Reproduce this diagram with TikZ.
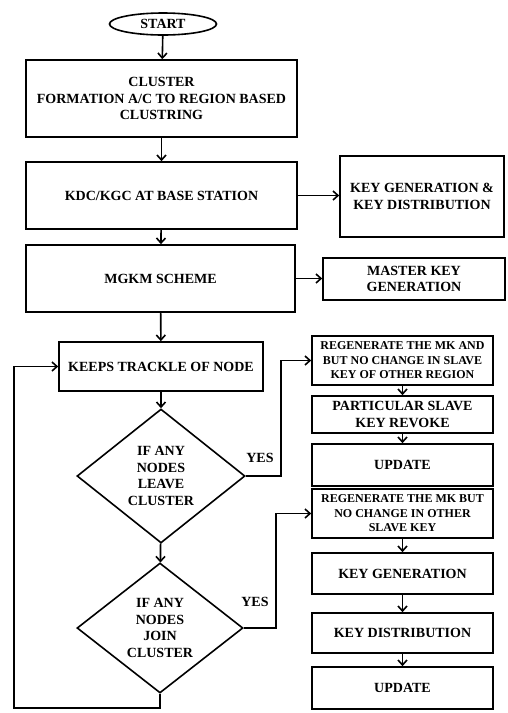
\documentclass[tikz,border=0pt]{standalone}
\usepackage{fontspec}
\setmainfont{Liberation Serif}
\usetikzlibrary{shapes.geometric,arrows.meta}
\begin{document}
\begin{tikzpicture}[x=1pt,y=-1pt,line width=1.6pt,
		>={Straight Barb[length=5pt,width=9pt]},
		procbox/.style={draw,rectangle,inner sep=0pt,align=center,font=\fontsize{14}{16.7}\selectfont\bfseries},
		smallbox/.style={procbox,font=\fontsize{12}{14.5}\selectfont\bfseries},
		decision/.style={draw,diamond,inner sep=0pt,align=center,font=\fontsize{14}{16.7}\selectfont\bfseries},
		terminal/.style={draw,ellipse,inner sep=0pt,font=\fontsize{14}{16.7}\selectfont\bfseries}]
		\useasboundingbox (0,0) rectangle (507,713);
		% main column
		\node (start) at (163,24) [terminal,minimum width=107pt,minimum height=22pt]{START};
		\node (cluster) at (161.5,98.5) [procbox,minimum width=271pt,minimum height=77pt]{CLUSTER\\FORMATION A/C TO REGION BASED\\CLUSTRING};
		\node (kdc) at (161.5,195.5) [procbox,minimum width=271pt,minimum height=67pt]{KDC/KGC AT BASE STATION};
		\node (mgkm) at (160.5,278.5) [procbox,minimum width=269pt,minimum height=67pt]{MGKM SCHEME};
		\node (keeps) at (161,366.5) [procbox,minimum width=204pt,minimum height=49pt]{KEEPS TRACKLE OF NODE};
		\node (leave) at (161,476) [decision,minimum width=168pt,minimum height=134pt]{IF ANY\\NODES\\LEAVE\\CLUSTER};
		\node (join) at (160,628) [decision,minimum width=166pt,minimum height=130pt]{IF ANY\\NODES\\JOIN\\CLUSTER};
		% right column
		\node (keygen) at (422,196.5) [procbox,minimum width=164pt,minimum height=81pt]{KEY GENERATION \&\\KEY DISTRIBUTION};
		\node (master) at (414,279) [procbox,minimum width=182pt,minimum height=42pt]{MASTER KEY\\GENERATION};
		\node (regenleave) at (402.5,360.5) [smallbox,minimum width=181pt,minimum height=49pt]{REGENERATE THE MK AND\\BUT NO CHANGE IN SLAVE\\KEY OF OTHER REGION};
		\node (revoke) at (402.5,414.5) [procbox,minimum width=181pt,minimum height=37pt]{PARTICULAR SLAVE\\KEY REVOKE};
		\node (updleave) at (402.5,465) [procbox,minimum width=181pt,minimum height=42pt]{UPDATE};
		\node (regenjoin) at (402.5,513.5) [smallbox,minimum width=181pt,minimum height=49pt]{REGENERATE THE MK BUT\\NO CHANGE IN OTHER\\SLAVE KEY};
		\node (kgen) at (402.5,573.5) [procbox,minimum width=181pt,minimum height=41pt]{KEY GENERATION};
		\node (kdist) at (402.5,633) [procbox,minimum width=181pt,minimum height=40pt]{KEY DISTRIBUTION};
		\node (updjoin) at (402.5,688) [procbox,minimum width=181pt,minimum height=42pt]{UPDATE};
		\node (yesleave) at (260,458) [font=\fontsize{14}{16.7}\selectfont\bfseries]{YES};
		\node (yesjoin) at (255,602) [font=\fontsize{14}{16.7}\selectfont\bfseries]{YES};
		\coordinate (loop) at (14,708);
		% connectors
		\draw[->] (start) -- (cluster);
		\draw[->] (cluster) -- (kdc);
		\draw[->] (kdc) -- (mgkm);
		\draw[->] (mgkm) -- (keeps);
		\draw[->] (keeps) -- (leave);
		\draw[->] (leave) -- (join);
		\draw[->] (kdc.east) -- (kdc.east -| keygen.west);
		\draw[->] (mgkm.east) -- (mgkm.east -| master.west);
		\draw[->] (leave.east) -- ++(35,0) |- (regenleave.west);
		\draw[->] (regenleave) -- (revoke);
		\draw[->] (revoke) -- (updleave);
		\draw[->] (join.east) -- ++(32,0) |- (regenjoin.west);
		\draw[->] (regenjoin) -- (kgen);
		\draw[->] (kgen) -- (kdist);
		\draw[->] (kdist) -- (updjoin);
		\draw[->] (join.south) |- (loop) |- (keeps.west);
	\end{tikzpicture}
\end{document}
